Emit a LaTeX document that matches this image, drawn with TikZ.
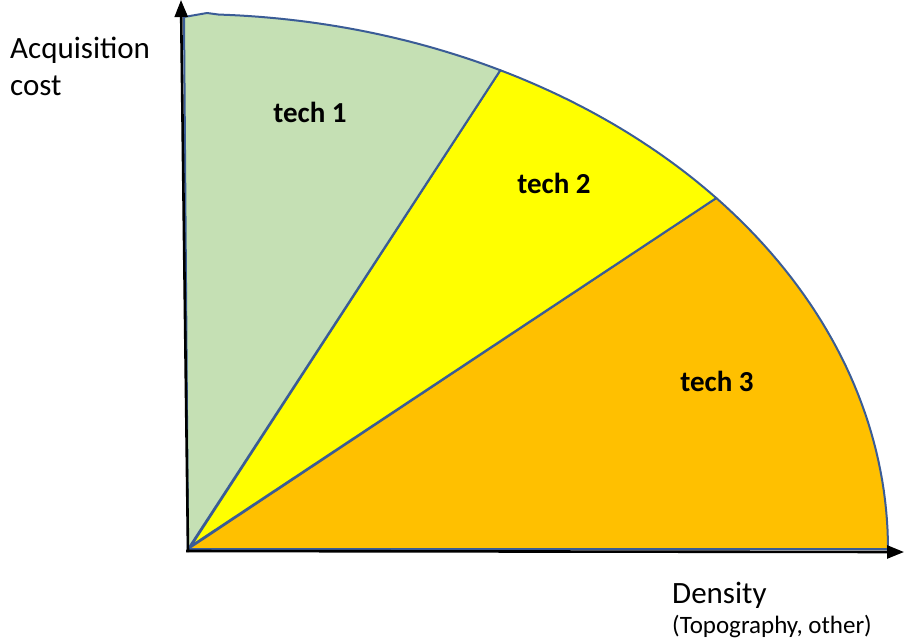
\documentclass[tikz,border=0pt]{standalone}
\usepackage{fontspec}
\setmainfont{Carlito}
\usetikzlibrary{arrows.meta}
\definecolor{techgreen}{RGB}{197,224,180}
\definecolor{techyellow}{RGB}{255,255,0}
\definecolor{techorange}{RGB}{255,192,0}
\definecolor{edgeblue}{RGB}{58,92,150}
\tikzset{
  sector/.style={draw=edgeblue, line width=2pt, line join=round},
  axisline/.style={draw=black, line width=2.6pt, -{Triangle[length=17pt,width=13pt]}},
  techlabel/.style={font=\fontsize{29}{35}\selectfont\bfseries, text=black},
  axislabel/.style={font=\fontsize{31}{38}\selectfont, text=black, anchor=base west, inner sep=0pt},
  sublabel/.style={font=\fontsize{25}{30}\selectfont, text=black, anchor=base west, inner sep=0pt}
}
\begin{document}
\begin{tikzpicture}[x=1pt,y=-1pt]
\useasboundingbox (0,0) rectangle (909,641);
\coordinate (O) at (188,549);
\coordinate (O2) at (191,546);
% sectors
\filldraw[sector, fill=techorange] (O) -- plot[domain=41:0,samples=40] ({188+700*cos(\x)},{549-535*sin(\x)}) -- cycle;
\filldraw[sector, fill=techyellow] (O2) -- plot[domain=63.5:41,samples=30] ({188+700*cos(\x)},{549-535*sin(\x)}) -- cycle;
\filldraw[sector, fill=techgreen] (O) -- (184,17) -- (207,13) -- plot[domain=87.5:63.5,samples=30] ({188+700*cos(\x)},{549-535*sin(\x)}) -- cycle;
% axes
\coordinate (ytip) at (181,0);
\coordinate (ybase) at (188,552);
\coordinate (xbase) at (186,551);
\coordinate (xtip) at (904,552);
\draw[axisline] (ybase) -- (ytip);
\draw[axisline] (xbase) -- (xtip);
% labels
\node[techlabel] (t1) at (310,112) {tech 1};
\node[techlabel] (t2) at (554,183) {tech 2};
\node[techlabel] (t3) at (717,381) {tech 3};
\node[axislabel] (acq) at (10,58) {Acquisition};
\node[axislabel] (cost) at (10,95) {cost};
\node[axislabel] (dens) at (672,603) {Density};
\node[sublabel] (topo) at (672,633) {(Topography, other)};
\end{tikzpicture}
\end{document}
